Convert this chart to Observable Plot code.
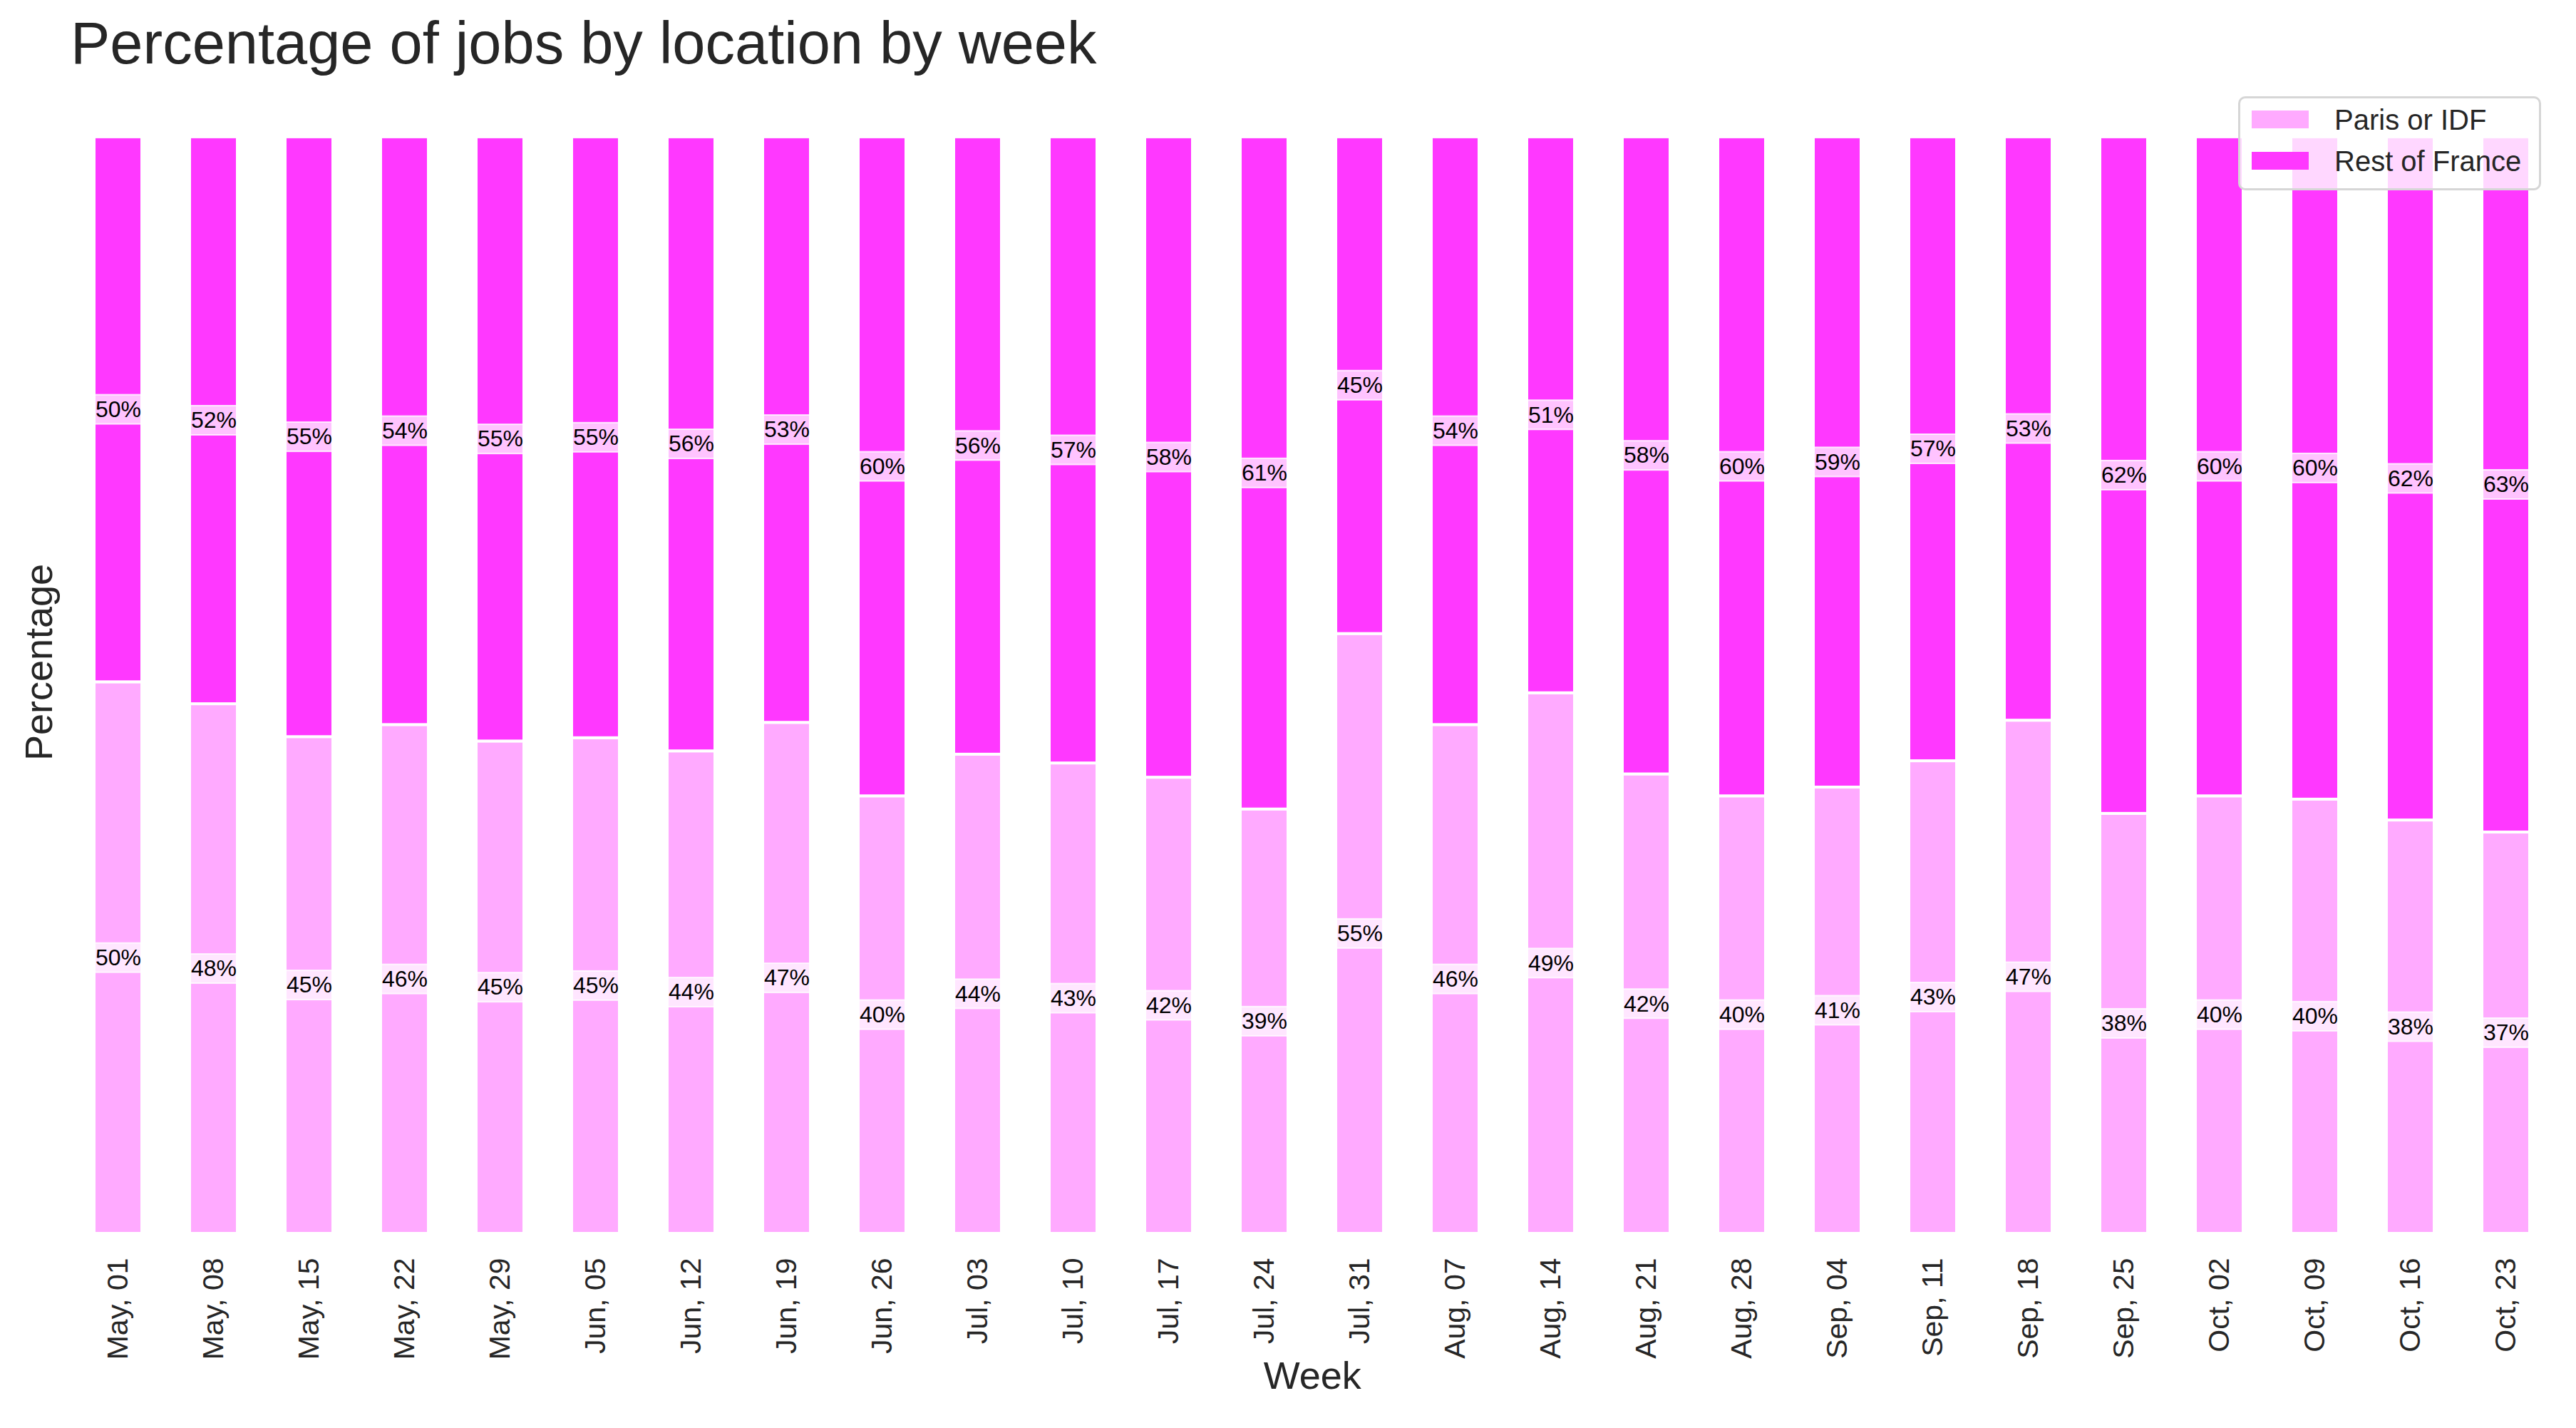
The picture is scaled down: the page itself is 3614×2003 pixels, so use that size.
<!DOCTYPE html>
<html><head><meta charset="utf-8">
<script src="https://cdn.jsdelivr.net/npm/d3@7"></script>
<script src="https://cdn.jsdelivr.net/npm/@observablehq/plot@0.6"></script>
<style>
body{margin:0;background:#fff;font-family:"Liberation Sans",Arial,sans-serif;}
#wrap{position:relative;width:3614px;height:2003px;overflow:hidden;}
#chart{position:absolute;left:0;top:0;}
#title{position:absolute;left:99px;top:19px;font-size:83px;line-height:83px;color:#262626;white-space:nowrap;}
#legend{position:absolute;left:3140px;top:135px;width:425px;height:132px;box-sizing:border-box;border:3px solid #d6d6d6;border-radius:10px;background:rgba(255,255,255,0.8);z-index:2;}
.item{position:absolute;left:0;height:40px;width:420px;}
.sw{position:absolute;left:16px;top:7px;width:80px;height:25px;}
.lab{position:absolute;left:132px;top:0;font-size:40px;line-height:40px;color:#262626;white-space:nowrap;}
</style>
</head><body>
<div id="wrap">
  <div id="chart"></div>
  <div id="title">Percentage of jobs by location by week</div>
  <div id="legend"></div>
</div>
<script>
const weeks = ["May, 01","May, 08","May, 15","May, 22","May, 29","Jun, 05","Jun, 12","Jun, 19","Jun, 26","Jul, 03","Jul, 10","Jul, 17","Jul, 24","Jul, 31","Aug, 07","Aug, 14","Aug, 21","Aug, 28","Sep, 04","Sep, 11","Sep, 18","Sep, 25","Oct, 02","Oct, 09","Oct, 16","Oct, 23"];
const parisShare = [50.3,48.3,45.3,46.4,44.9,45.2,44.0,46.6,39.9,43.7,42.9,41.6,38.7,54.7,46.4,49.3,41.9,39.9,40.7,43.1,46.8,38.3,39.9,39.6,37.7,36.6];
const restShare  = [49.7,51.7,54.7,53.6,55.1,54.8,56.0,53.4,60.1,56.3,57.1,58.4,61.3,45.3,53.6,50.7,58.1,60.1,59.3,56.9,53.2,61.7,60.1,60.4,62.3,63.4];
const seriesNames = ["Paris or IDF","Rest of France"];
const seriesColors = ["#ffaaff","#ff38ff"];

const data = weeks.map((w,i)=>({week:w, paris:parisShare[i], rest:restShare[i]}));

const chart = Plot.plot({
  width: 3614, height: 2003,
  marginTop: 115, marginBottom: 273, marginLeft: 97.5, marginRight: 30,
  style: {fontFamily: "Liberation Sans, Arial, sans-serif", background: "white"},
  x: {domain: weeks, paddingInner: 0.5, paddingOuter: 0.25, axis: null},
  y: {domain: [0,105], axis: null},
  marks: [
    Plot.barY(data, {x:"week", y1: 0, y2: "paris", fill: seriesColors[0], stroke: "white", strokeWidth: 4}),
    Plot.barY(data, {x:"week", y1: "paris", y2: d=>d.paris+d.rest, fill: seriesColors[1], stroke: "white", strokeWidth: 4}),
    Plot.barY(data, {x:"week", y1: d=>d.paris/2, y2: d=>d.paris/2, insetTop:-20.5, insetBottom:-20.5, fill:"white", fillOpacity:0.7, stroke:"white", strokeOpacity:0.8, strokeWidth:2}),
    Plot.barY(data, {x:"week", y1: d=>d.paris+d.rest/2, y2: d=>d.paris+d.rest/2, insetTop:-20.5, insetBottom:-20.5, fill:"white", fillOpacity:0.7, stroke:"white", strokeOpacity:0.8, strokeWidth:2}),
    Plot.text(data, {x:"week", y: d=>d.paris/2, text: d=>Math.round(d.paris)+"%", fontSize: 32, fill:"black"}),
    Plot.text(data, {x:"week", y: d=>d.paris+d.rest/2, text: d=>Math.round(d.rest)+"%", fontSize: 32, fill:"black"}),
    Plot.axisX({fontSize: 41, tickSize: 0, tickPadding: 34, tickRotate: -90, color:"#262626", label: null}),
    Plot.text(["Week"], {frameAnchor:"bottom", dy: 217, fontSize:54, fill:"#262626"}),
    Plot.text(["Percentage"], {frameAnchor:"left", textAnchor:"middle", rotate:-90, dx:-42, dy:6, fontSize:54, fill:"#262626"})
  ]
});
document.getElementById("chart").appendChild(chart);

const leg = document.getElementById("legend");
seriesNames.forEach((n,i)=>{
  const it = document.createElement("div");
  it.className="item"; it.style.top = (10 + i*58) + "px";
  it.innerHTML = `<div class="sw" style="background:${seriesColors[i]}"></div><div class="lab">${n}</div>`;
  leg.appendChild(it);
});
</script>
</body></html>
